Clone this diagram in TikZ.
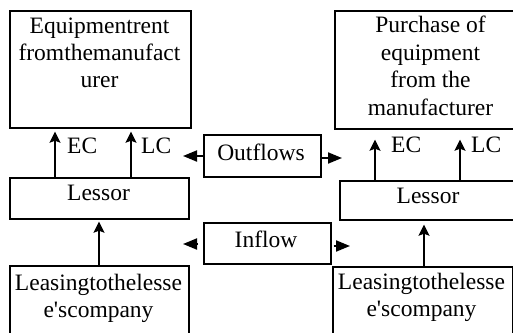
\documentclass[tikz,border=0pt]{standalone}
\usepackage{fontspec}
\setmainfont{Liberation Serif}
\usetikzlibrary{arrows.meta}

\begin{document}
\begin{tikzpicture}[x=1pt,y=-1pt,
  box/.style={draw, line width=1.7pt, inner sep=0pt, anchor=north west},
  txt/.style={inner sep=0pt, font=\fontsize{23.5}{27}\selectfont, align=center},
  vup/.style={line width=1.9pt, -{Stealth[length=11pt,width=11pt,inset=2pt]}},
  side/.style={line width=1.9pt, -{Triangle[length=14pt,width=11pt]}}]

\fill[white] (0,0) rectangle (513,332);
\useasboundingbox (0,0) rectangle (513,332);

% boxes
\node[box, minimum width=181pt, minimum height=117pt] (mfrL) at (9,10) {};
\node[box, minimum width=190pt, minimum height=118pt] (mfrR) at (334,10) {};
\node[box, minimum width=179pt, minimum height=41pt] (lesL) at (9,177) {};
\node[box, minimum width=185pt, minimum height=39pt] (lesR) at (339,180) {};
\node[box, minimum width=117pt, minimum height=42pt] (out) at (203,134) {};
\node[box, minimum width=127pt, minimum height=41pt] (inf) at (203,222) {};
\node[box, minimum width=179pt, minimum height=80pt] (leaseL) at (9,265) {};
\node[box, minimum width=180pt, minimum height=80pt] (leaseR) at (332,266) {};

% box texts
\node[txt, anchor=north] (mfrLt) at (99.5,18) {Equipmentrent\\fromthemanufact\\urer};
\node[txt, anchor=north, font=\fontsize{23.5}{27.6}\selectfont] (mfrRt) at (430.5,16) {Purchase of\\equipment\\from the\\manufacturer};
\node[txt, anchor=base] (lesLt) at (98.5,200.7) {Lessor};
\node[txt, anchor=base] (lesRt) at (428,203) {Lessor};
\node[txt, anchor=base] (outt) at (261,160) {Outflows};
\node[txt, anchor=base] (inft) at (266,247) {Inflow};
\node[txt, anchor=north, font=\fontsize{23.5}{26.5}\selectfont] (leaseLt) at (98.5,274) {Leasingtothelesse\\e\textquotesingle scompany};
\node[txt, anchor=north, font=\fontsize{23.5}{26.5}\selectfont] (leaseRt) at (421.5,273) {Leasingtothelesse\\e\textquotesingle scompany};

% flow labels
\node[txt, anchor=base west] (ecL) at (67,153) {EC};
\node[txt, anchor=base west] (lcL) at (141,153) {LC};
\node[txt, anchor=base west] (ecR) at (391,152) {EC};
\node[txt, anchor=base west] (lcR) at (471,152) {LC};

% x positions of the vertical flows
\coordinate (ecLx) at (55,0);
\coordinate (lcLx) at (131,0);
\coordinate (ecRx) at (375,0);
\coordinate (lcRx) at (460,0);
\coordinate (upLx) at (99,0);
\coordinate (upRx) at (424,0);

\draw[vup, shorten >=3pt] (lesL.north -| ecLx) -- (mfrL.south -| ecLx);
\draw[vup, shorten >=3pt] (lesL.north -| lcLx) -- (mfrL.south -| lcLx);
\draw[vup, shorten >=10pt] (lesR.north -| ecRx) -- (mfrR.south -| ecRx);
\draw[vup, shorten >=10pt] (lesR.north -| lcRx) -- (mfrR.south -| lcRx);
\draw[vup, shorten >=2pt] (leaseL.north -| upLx) -- (lesL.south -| upLx);
\draw[vup, shorten >=4pt] (leaseR.north -| upRx) -- (lesR.south -| upRx);

% free ends of the side arrows
\coordinate (oL) at (183,156);
\coordinate (oR) at (342,158);
\coordinate (iL) at (183,244);
\coordinate (iR) at (350,246);

\draw[side] (out.west |- oL) -- (oL);
\draw[side] (out.east |- oR) -- (oR);
\draw[side, shorten <=5pt] (inf.west |- iL) -- (iL);
\draw[side, shorten <=2pt] (inf.east |- iR) -- (iR);

\end{tikzpicture}
\end{document}
